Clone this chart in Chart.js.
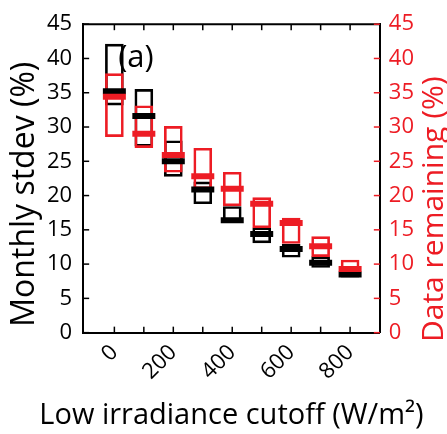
<!DOCTYPE html>
<html>
<head>
<meta charset="utf-8">
<script src="https://cdn.jsdelivr.net/npm/chart.js@4.4.0/dist/chart.umd.min.js"></script>
<style>
html, body { margin: 0; padding: 0; background: #fff; }
</style>
</head>
<body>
<canvas id="myChart" width="447" height="434"></canvas>
<script>
'use strict';
// data
const cutoff = [0, 100, 200, 300, 400, 500, 600, 700, 800];
// monthly stdev (%), black
const stdevLow = [33.2, 27.2, 22.8, 18.8, 16.1, 13.1, 11.0, 9.5, 8.1];
const stdevHigh = [42.1, 35.5, 28.0, 22.0, 18.4, 15.3, 12.9, 11.1, 9.0];
const stdevMedian = [35.2, 31.6, 25.0, 20.9, 16.4, 14.4, 12.2, 10.2, 8.5];
// data remaining (%), red
const remainLow = [28.6, 27.0, 23.4, 21.0, 18.5, 15.3, 13.0, 11.1, 8.2];
const remainHigh = [37.8, 33.1, 30.1, 26.9, 23.4, 19.7, 16.7, 14.0, 10.6];
const remainMedian = [34.4, 29.0, 25.9, 22.8, 21.0, 18.8, 16.0, 12.6, 9.3];
const yTicks = [0, 5, 10, 15, 20, 25, 30, 35, 40, 45];

const red = '#ed1c24';
const fontName = '"Open Sans", Lato, sans-serif';

const boxes = (lo, hi) => cutoff.map((x, i) => ({ x: x, y: [lo[i], hi[i]] }));
const medians = m => cutoff.map((x, i) => ({ x: x, y: m[i] }));

// inner ticks, top border, titles
const frame = {
    id: 'frame',
    afterDraw(chart) {
        const { ctx, chartArea: a, scales } = chart;
        const line = (x1, y1, x2, y2) => {
            ctx.beginPath();
            ctx.moveTo(x1, y1);
            ctx.lineTo(x2, y2);
            ctx.stroke();
        };
        ctx.save();
        ctx.lineWidth = 2;
        ctx.strokeStyle = '#000';
        line(a.left - 1, a.top, a.right + 1, a.top);
        ctx.lineWidth = 1.5;
        cutoff.forEach(v => {
            const px = scales.x.getPixelForValue(v);
            line(px, a.bottom, px, a.bottom - 6);
            line(px, a.top, px, a.top + 6);
        });
        yTicks.forEach(v => {
            const py = scales.y.getPixelForValue(v);
            line(a.left, py, a.left + 6, py);
        });
        ctx.strokeStyle = red;
        yTicks.forEach(v => {
            const py = scales.y2.getPixelForValue(v);
            line(a.right, py, a.right - 6, py);
        });

        ctx.textBaseline = 'middle';
        ctx.textAlign = 'left';
        ctx.font = '31px ' + fontName;
        ctx.fillStyle = '#000';
        ctx.fillText('(a)', a.left + 35, a.top + 34);

        // x title (drawn here so it is not squeezed to the plot width)
        ctx.textAlign = 'center';
        ctx.textBaseline = 'alphabetic';
        ctx.font = '29px ' + fontName;
        ctx.fillText('Low irradiance cutoff (W/m²)', (a.left + a.right) / 2, 424);

        ctx.textBaseline = 'middle';
        ctx.font = '32px ' + fontName;
        ctx.save();
        ctx.translate(25, a.top + 170);
        ctx.rotate(-Math.PI / 2);
        ctx.fillText('Monthly stdev (%)', 0, 0);
        ctx.restore();

        ctx.font = '30px ' + fontName;
        ctx.fillStyle = red;
        ctx.save();
        ctx.translate(434, a.top + 185);
        ctx.rotate(-Math.PI / 2);
        ctx.fillText('Data remaining (%)', 0, 0);
        ctx.restore();
        ctx.restore();
    }
};

const ctx = document.getElementById('myChart');
const myChart = new Chart(ctx.getContext('2d'), {
    type: 'bar',
    data: {
        datasets: [{
            type: 'line',
            label: 'Data remaining median',
            data: medians(remainMedian),
            yAxisID: 'y2',
            showLine: false,
            pointStyle: 'line',
            pointRadius: 11.5,
            pointBorderWidth: 6,
            borderColor: red,
            backgroundColor: red
        }, {
            type: 'line',
            label: 'Monthly stdev median',
            data: medians(stdevMedian),
            yAxisID: 'y',
            showLine: false,
            pointStyle: 'line',
            pointRadius: 11.5,
            pointBorderWidth: 6,
            borderColor: '#000',
            backgroundColor: '#000'
        }, {
            label: 'Data remaining',
            data: boxes(remainLow, remainHigh),
            yAxisID: 'y2',
            barThickness: 18,
            grouped: false,
            borderWidth: 2,
            borderSkipped: false,
            borderColor: red,
            backgroundColor: 'rgba(0,0,0,0)'
        }, {
            label: 'Monthly stdev',
            data: boxes(stdevLow, stdevHigh),
            yAxisID: 'y',
            barThickness: 18,
            grouped: false,
            borderWidth: 2,
            borderSkipped: false,
            borderColor: '#000',
            backgroundColor: 'rgba(0,0,0,0)'
        }]
    },
    options: {
        responsive: false,
        animation: false,
        layout: {
            padding: { left: 36, right: 24, top: 22, bottom: 42 }
        },
        plugins: {
            legend: { display: false },
            tooltip: { enabled: false }
        },
        scales: {
            x: {
                type: 'linear',
                min: -50,
                max: 845,
                afterBuildTicks: s => { s.ticks = cutoff.map(v => ({ value: v })); },
                grid: { drawOnChartArea: false, drawTicks: false },
                border: { color: '#000', width: 2 },
                ticks: {
                    autoSkip: false,
                    minRotation: 45,
                    maxRotation: 45,
                    padding: 7,
                    color: '#000',
                    font: { family: fontName, size: 22 },
                    callback: v => (v % 200 === 0 ? v : '')
                }
            },
            y: {
                position: 'left',
                min: 0,
                max: 45,
                afterBuildTicks: s => { s.ticks = yTicks.map(v => ({ value: v })); },
                grid: { drawOnChartArea: false, drawTicks: false },
                border: { color: '#000', width: 2 },
                ticks: {
                    padding: 11,
                    color: '#000',
                    font: { family: fontName, size: 22 }
                }
            },
            y2: {
                position: 'right',
                min: 0,
                max: 45,
                afterBuildTicks: s => { s.ticks = yTicks.map(v => ({ value: v })); },
                grid: { drawOnChartArea: false, drawTicks: false },
                border: { color: '#000', width: 2 },
                ticks: {
                    padding: 9,
                    color: red,
                    font: { family: fontName, size: 22 }
                }
            }
        }
    },
    plugins: [frame]
});
</script>
</body>
</html>
